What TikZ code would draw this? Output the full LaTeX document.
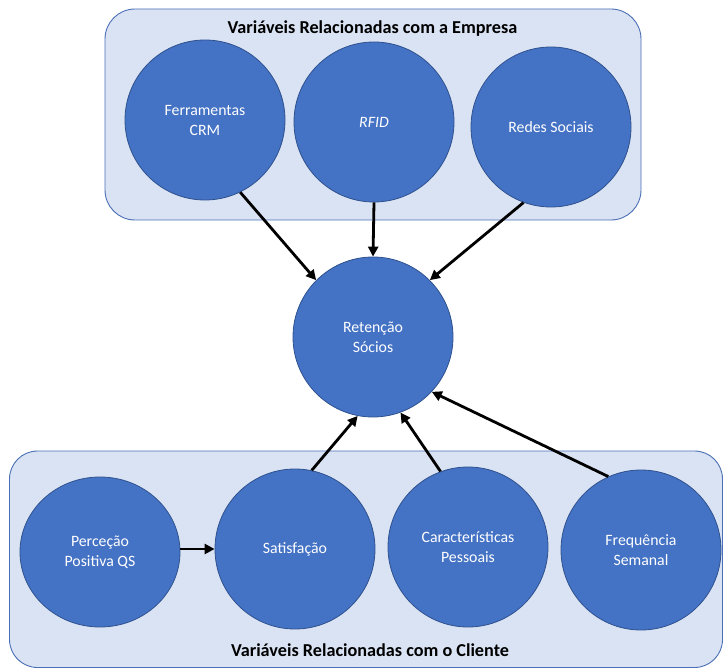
\documentclass[tikz,border=0pt]{standalone}
\usepackage{fontspec}
\setmainfont{Carlito}
\usetikzlibrary{arrows.meta,shapes.geometric}
\definecolor{boxfill}{HTML}{DAE3F3}
\definecolor{boxline}{HTML}{4A6FB5}
\definecolor{circfill}{HTML}{4472C4}
\definecolor{circline}{HTML}{2F528F}
\begin{document}
\begin{tikzpicture}[x=1pt,y=-1pt,
  group/.style={draw=boxline, fill=boxfill, rounded corners=30pt, line width=0.9pt},
  var/.style={circle, draw=circline, fill=circfill, line width=0.8pt, minimum size=160pt,
    inner sep=0pt, text=white, font=\fontsize{15.8}{20}\selectfont, align=center},
  link/.style={line width=2.8pt, -{Triangle[length=10pt,width=10pt]}},
  title/.style={font=\bfseries\fontsize{18.2}{22}\selectfont, text=black}]
\useasboundingbox (0,0) rectangle (723,668);
% group boxes
\draw[group] (105,9) rectangle (641,220);
\draw[group, rounded corners=28pt] (9.5,451) rectangle (722.5,667.5);
\node[title] (ttop) at (372.5,29) {Variáveis Relacionadas com a Empresa};
\node[title] (tbot) at (370,650) {Variáveis Relacionadas com o Cliente};
% top variables
\node[var] (ferr) at (205,120) {Ferramentas\\CRM};
\node[var] (rfid) at (374,122) {\textit{RFID}};
\node[var] (redes) at (551,127) {Redes Sociais};
% centre
\node[var] (ret) at (373,337) {Retenção\\Sócios};
% bottom variables
\node[var, ellipse, minimum size=0pt, minimum width=160pt, minimum height=150pt] (perc) at (100,552) {Perceção\\Positiva QS};
\node[var] (sat) at (295,549) {Satisfação};
\node[var] (car) at (468,547) {Características\\Pessoais};
\node[var] (freq) at (641,550) {Frequência\\Semanal};
% connectors
\draw[link] (ferr.-64.7) -- (ret.135);
\draw[link] (rfid.south) -- (ret.north);
\draw[link] (redes.-110) -- (ret.45);
\draw[link] (sat.78.5) -- (ret.-101);
\draw[link] (car.110.5) -- (ret.-70);
\draw[link] (freq.114.6) -- (ret.-43.5);
\draw[link] (perc.east |- sat.west) -- (sat.west);
\end{tikzpicture}
\end{document}
